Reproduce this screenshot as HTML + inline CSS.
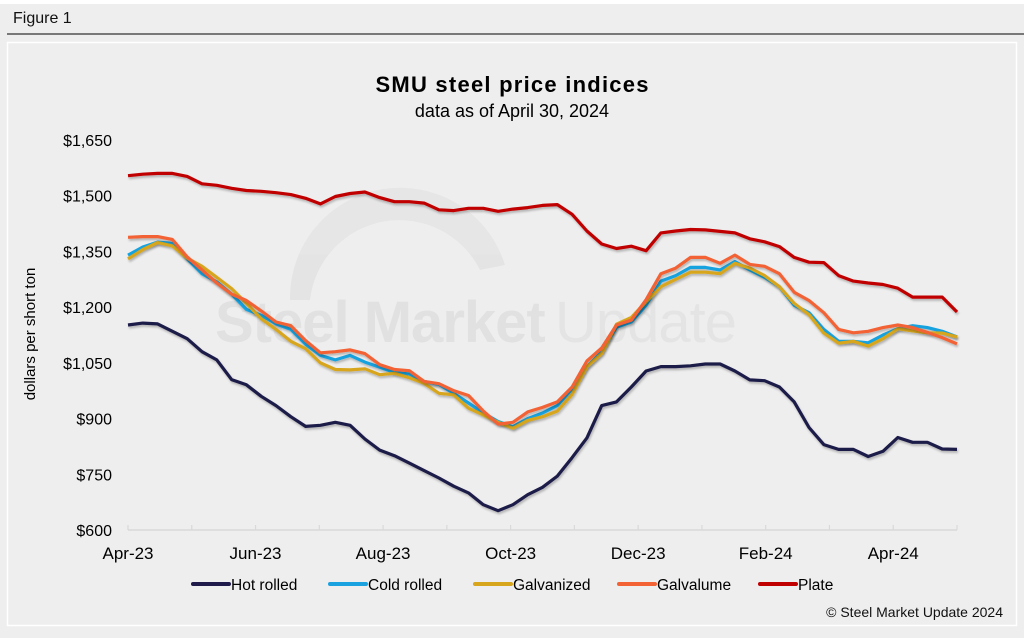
<!DOCTYPE html>
<html><head><meta charset="utf-8"><style>
html,body{margin:0;padding:0;background:#eeeeee;}
body{width:1024px;height:633px;overflow:hidden;font-family:"Liberation Sans",Arial,sans-serif;}
</style></head><body>
<svg id="chart" width="1024" height="633" xmlns="http://www.w3.org/2000/svg" style="font-family:'Liberation Sans',Arial,sans-serif">
<defs><filter id="sh" x="-5%" y="-5%" width="110%" height="120%"><feDropShadow dx="1" dy="2" stdDeviation="1" flood-color="#000" flood-opacity="0.25"/></filter></defs>
<rect x="0" y="0" width="1024" height="4" fill="#ffffff"/>
<text x="13" y="23" font-size="16" fill="#111">Figure 1</text>
<line x1="7" y1="34" x2="1024" y2="34" stroke="#333" stroke-width="1.2"/>
<rect x="7.5" y="42.5" width="1009" height="583" fill="#eeeeee" stroke="#ffffff" stroke-width="1.5"/>
<g fill="#e2e2e2" opacity="0.9">
<path d="M290 300 A110 110 0 0 1 505 265 L480 270 A90 90 0 0 0 310 300 Z" fill="#e4e4e4"/>
<text x="215" y="342" font-size="58" font-weight="bold" fill="#e0e0e0" letter-spacing="-1">Steel Market</text>
<text x="555" y="342" font-size="58" fill="#e4e4e4" letter-spacing="-1">Update</text>
</g>
<text x="512" y="92" text-anchor="middle" font-size="22" font-weight="bold" fill="#000" textLength="273">SMU steel price indices</text>
<text x="512" y="117" text-anchor="middle" font-size="18" fill="#000">data as of April 30, 2024</text>
<text transform="translate(35,334) rotate(-90)" text-anchor="middle" font-size="15" fill="#000">dollars per short ton</text>
<g id="yticks"></g>
<g id="xaxis"></g>
<g id="series"></g>
<g id="legend"></g>
<text x="1003" y="617" text-anchor="end" font-size="14" fill="#111">© Steel Market Update 2024</text>
</svg>
<script>
const yTicks=[600,750,900,1050,1200,1350,1500,1650];
const yTickLabels=["$600","$750","$900","$1,050","$1,200","$1,350","$1,500","$1,650"];
const xLabels=["Apr-23","Jun-23","Aug-23","Oct-23","Dec-23","Feb-24","Apr-24"];
const seriesNames=["Hot rolled","Cold rolled","Galvanized","Galvalume","Plate"];
const hotRolled=[1152,1157,1155,1135,1115,1080,1058,1005,991,960,935,905,879,882,890,882,845,815,800,780,760,740,718,700,668,652,668,695,715,745,795,848,935,945,985,1028,1040,1040,1042,1047,1047,1028,1004,1002,985,945,876,830,817,817,798,812,849,836,836,818,817];
const coldRolled=[1340,1362,1375,1372,1330,1290,1268,1235,1194,1178,1155,1140,1100,1070,1058,1070,1052,1038,1024,1020,1000,992,968,942,915,892,878,900,915,935,980,1040,1080,1146,1160,1205,1270,1285,1307,1307,1300,1323,1300,1280,1255,1205,1185,1140,1108,1108,1104,1125,1142,1150,1145,1135,1120];
const galvanized=[1330,1355,1374,1365,1332,1310,1280,1250,1210,1169,1140,1108,1088,1050,1032,1031,1034,1018,1022,1010,995,968,964,928,910,890,874,895,905,920,965,1040,1075,1154,1172,1215,1255,1275,1294,1294,1290,1318,1305,1285,1255,1210,1180,1130,1103,1108,1095,1115,1142,1136,1131,1130,1120];
const galvalume=[1388,1390,1390,1382,1335,1300,1265,1235,1218,1190,1160,1150,1110,1077,1080,1085,1075,1045,1032,1029,1000,994,975,962,920,885,890,918,930,945,985,1055,1090,1152,1165,1220,1290,1305,1334,1334,1318,1340,1315,1310,1290,1240,1218,1185,1140,1131,1135,1145,1152,1145,1132,1118,1101];
const plate=[1554,1558,1560,1560,1552,1532,1528,1520,1514,1512,1508,1503,1493,1478,1498,1506,1510,1495,1484,1484,1480,1462,1460,1466,1466,1458,1464,1468,1474,1476,1450,1405,1370,1358,1364,1352,1400,1405,1409,1408,1404,1400,1384,1376,1363,1334,1321,1320,1285,1270,1265,1261,1251,1227,1227,1227,1187];

const NS="http://www.w3.org/2000/svg";
const X0=128,X1=957,Y0=530,Y1=140,VMIN=600,VMAX=1650;
function yScale(v){return Y0-(v-VMIN)*(Y0-Y1)/(VMAX-VMIN);}
function xScale(i,n){return X0+i*(X1-X0)/(n-1);}
function mk(tag,attrs,parent){const e=document.createElementNS(NS,tag);for(const k in attrs)e.setAttribute(k,attrs[k]);parent.appendChild(e);return e;}

const yg=document.getElementById('yticks');
yTicks.forEach((v,i)=>{
  const t=mk('text',{x:112,y:yScale(v)+6,'text-anchor':'end','font-size':16,fill:'#000'},yg);
  
  
  t.textContent=yTickLabels[i];
});

const xg=document.getElementById('xaxis');
const axis=mk('line',{x1:X0,y1:Y0,x2:X1,y2:Y0,stroke:'#d9d9d9','stroke-width':1.5},xg);


const months=13,mstep=(X1-X0)/months;
for(let m=0;m<=months;m++){
  const tk=mk('line',{x1:X0+m*mstep,y1:Y0,x2:X0+m*mstep,y2:Y0-5,stroke:'#d9d9d9','stroke-width':1.2},xg);
  
  
}
xLabels.forEach((l,i)=>{
  const t=mk('text',{x:X0+i*2*mstep,y:Y0+29,'text-anchor':'middle','font-size':17,fill:'#000'},xg);
  
  
  t.textContent=l;
});

const colors=["#1e1a4a","#19a2df","#d8a61c","#f26234","#c00000"];
const data=[hotRolled,coldRolled,galvanized,galvalume,plate];
const sg=document.getElementById('series');
[4,0,1,2,3].forEach(s=>{
  const arr=data[s];
  const pts=arr.map((v,i)=>xScale(i,arr.length).toFixed(1)+','+yScale(v).toFixed(1)).join(' ');
  const p=mk('polyline',{points:pts,fill:'none',stroke:colors[s],'stroke-width':3.2,'stroke-linejoin':'round',filter:'url(#sh)'},sg);
  
  
});

const lg=document.getElementById('legend');
const lx=[193,330,475,619,760];
seriesNames.forEach((n,i)=>{
  const g=mk('g',{},lg);
  
  
  mk('line',{x1:lx[i],y1:584,x2:lx[i]+36,y2:584,stroke:colors[i],'stroke-width':4,'stroke-linecap':'round'},g);
  const t=mk('text',{x:lx[i]+38,y:590,'font-size':15.5,fill:'#000'},g);
  t.textContent=n;
});
</script>
</body></html>
